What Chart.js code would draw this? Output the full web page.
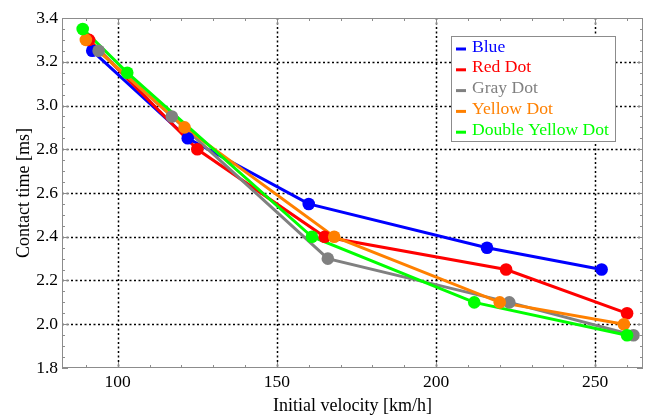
<!DOCTYPE html>
<html>
<head>
<meta charset="utf-8">
<script src="https://cdn.jsdelivr.net/npm/chart.js@4.4.1/dist/chart.umd.min.js"></script>
<style>
  html, body { margin: 0; padding: 0; background: #fff; }
</style>
</head>
<body>
<canvas id="chart" width="652" height="417"></canvas>
<script>
// series names and colours
var seriesNames = ["Blue", "Red Dot", "Gray Dot", "Yellow Dot", "Double Yellow Dot"];
var seriesColors = ["#0000ff", "#ff0000", "#808080", "#ff8000", "#00ff00"];

// initial velocity [km/h] and contact time [ms]
var blueVel   = [92, 122, 160, 216, 252];
var blueTime  = [3.25, 2.85, 2.55, 2.35, 2.25];
var redVel    = [91, 125, 165, 222, 260];
var redTime   = [3.30, 2.80, 2.40, 2.25, 2.05];
var grayVel   = [94, 117, 166, 223, 262];
var grayTime  = [3.25, 2.95, 2.30, 2.10, 1.95];
var yellowVel  = [90, 121, 168, 220, 259];
var yellowTime = [3.30, 2.90, 2.40, 2.10, 2.00];
var greenVel  = [89, 103, 161, 212, 260];
var greenTime = [3.35, 3.15, 2.40, 2.10, 1.95];

// tick labels
var xTicks = [100, 150, 200, 250];
var yTicks = [1.8, 2.0, 2.2, 2.4, 2.6, 2.8, 3.0, 3.2, 3.4];
var xMinorStep = 10;
var yMinorStep = 0.05;

function pts(xs, ys) {
  return xs.map(function (x, i) { return { x: x, y: ys[i] }; });
}

var allVel = [blueVel, redVel, grayVel, yellowVel, greenVel];
var allTime = [blueTime, redTime, grayTime, yellowTime, greenTime];
var n = seriesNames.length;

// lines first, then all the dots on top (later series over earlier ones)
var lineSets = seriesNames.map(function (name, i) {
  return {
    label: name,
    data: pts(allVel[i], allTime[i]),
    borderColor: seriesColors[i],
    backgroundColor: seriesColors[i],
    borderWidth: 3,
    pointRadius: 0,
    pointHoverRadius: 0,
    order: 2 * n - i
  };
});
var dotSets = seriesNames.map(function (name, i) {
  return {
    label: name + ' points',
    data: pts(allVel[i], allTime[i]),
    showLine: false,
    borderColor: seriesColors[i],
    backgroundColor: seriesColors[i],
    pointRadius: 6.3,
    pointBorderWidth: 0,
    pointHoverRadius: 6.3,
    order: n - i
  };
});

var serif = "'Liberation Serif', 'Times New Roman', serif";

// frame, dotted grid and inward ticks
var framePlugin = {
  id: 'frame',
  beforeDatasetsDraw: function (chart) {
    var ctx = chart.ctx, a = chart.chartArea;
    var xs = chart.scales.x, ys = chart.scales.y;
    ctx.save();

    // dotted grid
    ctx.strokeStyle = '#000';
    ctx.lineWidth = 1.5;
    ctx.setLineDash([2, 2.5]);
    xTicks.forEach(function (v) {
      var p = Math.round(xs.getPixelForValue(v)) + 0.5;
      ctx.beginPath(); ctx.moveTo(p, a.top); ctx.lineTo(p, a.bottom); ctx.stroke();
    });
    yTicks.forEach(function (v) {
      if (v <= ys.min || v >= ys.max) return;
      var p = Math.round(ys.getPixelForValue(v)) + 0.5;
      ctx.beginPath(); ctx.moveTo(a.left, p); ctx.lineTo(a.right, p); ctx.stroke();
    });
    ctx.setLineDash([]);

    // frame
    ctx.strokeStyle = '#8c8c8c';
    ctx.lineWidth = 1;
    ctx.strokeRect(a.left + 0.5, a.top + 0.5, a.right - a.left - 1, a.bottom - a.top - 1);

    // ticks
    var v, p, len;
    for (v = 90; v <= xs.max; v += xMinorStep) {
      len = v % 50 === 0 ? 6 : 3;
      p = Math.round(xs.getPixelForValue(v)) + 0.5;
      ctx.beginPath();
      ctx.moveTo(p, a.bottom); ctx.lineTo(p, a.bottom - len);
      ctx.moveTo(p, a.top); ctx.lineTo(p, a.top + len);
      ctx.stroke();
    }
    for (var k = 0; k <= 32; k++) {
      v = 1.8 + k * yMinorStep;
      len = k % 4 === 0 ? 6 : 3;
      p = Math.round(ys.getPixelForValue(v)) + 0.5;
      ctx.beginPath();
      ctx.moveTo(a.left, p); ctx.lineTo(a.left + len, p);
      ctx.moveTo(a.right, p); ctx.lineTo(a.right - len, p);
      ctx.stroke();
    }
    ctx.restore();
  }
};

// boxed legend inside the plot, text in series colours
var legendPlugin = {
  id: 'boxLegend',
  afterDraw: function (chart) {
    var ctx = chart.ctx;
    var bx = 451, by = 36, bw = 164, bh = 105;
    ctx.save();
    ctx.fillStyle = '#fff';
    ctx.fillRect(bx, by, bw, bh);
    ctx.strokeStyle = '#8c8c8c';
    ctx.lineWidth = 1;
    ctx.strokeRect(bx + 0.5, by + 0.5, bw, bh);
    ctx.font = "17.6px " + serif;
    ctx.textBaseline = 'middle';
    chart.data.datasets.slice(0, n).forEach(function (ds, i) {
      var cy = by + 11 + i * 20.8;
      ctx.strokeStyle = ds.borderColor;
      ctx.lineWidth = 3;
      ctx.beginPath();
      ctx.moveTo(bx + 5, cy + 2); ctx.lineTo(bx + 15, cy + 2);
      ctx.stroke();
      ctx.fillStyle = ds.borderColor;
      ctx.fillText(ds.label, bx + 21, cy);
    });
    ctx.restore();
  }
};

new Chart(document.getElementById('chart'), {
  type: 'line',
  data: { datasets: lineSets.concat(dotSets) },
  options: {
    responsive: false,
    animation: false,
    devicePixelRatio: 1,
    layout: { padding: { top: 18, right: 9, left: 0, bottom: 0 } },
    plugins: {
      legend: { display: false },
      tooltip: { enabled: false }
    },
    scales: {
      x: {
        type: 'linear',
        min: 82.5,
        max: 265,
        afterBuildTicks: function (s) { s.ticks = xTicks.map(function (v) { return { value: v }; }); },
        afterFit: function (s) { s.height = 49; },
        grid: { display: false, drawTicks: false },
        border: { display: false },
        ticks: { color: '#000', padding: 4, font: { family: serif, size: 17.5 } },
        title: {
          display: true,
          text: 'Initial velocity [km/h]',
          color: '#000',
          font: { family: serif, size: 18 },
          padding: { top: 0, bottom: 0 }
        }
      },
      y: {
        type: 'linear',
        min: 1.8,
        max: 3.4,
        afterBuildTicks: function (s) { s.ticks = yTicks.map(function (v) { return { value: v }; }); },
        afterFit: function (s) { s.width = 62; },
        grid: { display: false, drawTicks: false },
        border: { display: false },
        ticks: {
          color: '#000', padding: 4, font: { family: serif, size: 17.5 },
          callback: function (v) { return v.toFixed(1); }
        },
        title: {
          display: true,
          text: 'Contact time [ms]',
          color: '#000',
          font: { family: serif, size: 18 },
          padding: { top: 13, bottom: 0 }
        }
      }
    }
  },
  plugins: [framePlugin, legendPlugin]
});
</script>
</body>
</html>
